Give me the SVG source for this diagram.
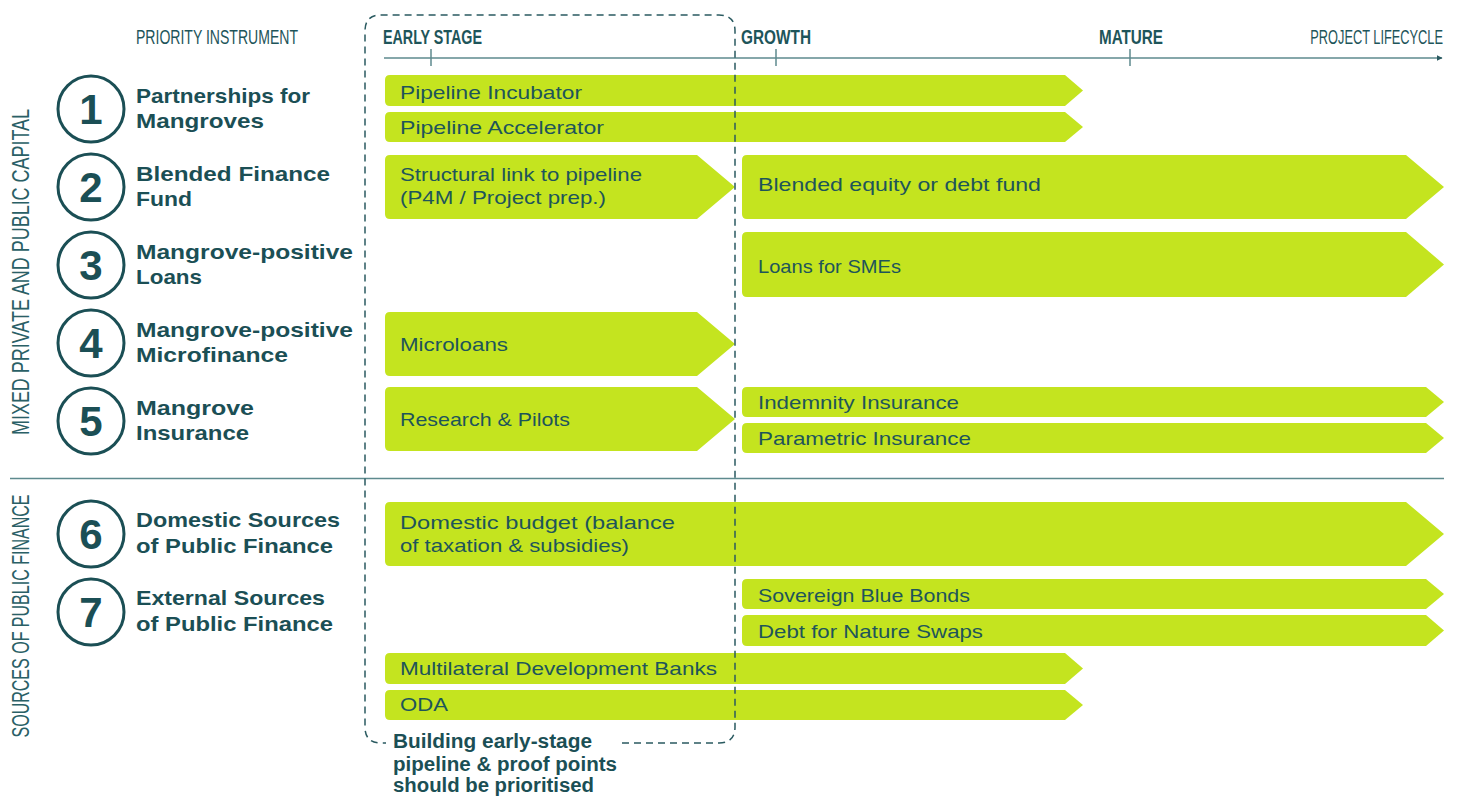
<svg xmlns="http://www.w3.org/2000/svg" width="1462" height="800" viewBox="0 0 1462 800">
<style>
.bar{fill:#c4e41f}
.bt{font-family:"Liberation Sans",Arial,sans-serif;font-size:19px;fill:#1e555a}
.tt{font-family:"Liberation Sans",Arial,sans-serif;font-size:21px;font-weight:bold;fill:#1b4f55}
.num{font-family:"Liberation Sans",Arial,sans-serif;font-size:42px;font-weight:bold;fill:#1b4f55;text-anchor:middle}
.circ{fill:none;stroke:#1b4f55;stroke-width:3}
.hd{font-family:"Liberation Sans",Arial,sans-serif;font-size:21px;fill:#1e555a}
.hdb{font-family:"Liberation Sans",Arial,sans-serif;font-size:21px;font-weight:bold;fill:#1e555a}
.vt{font-family:"Liberation Sans",Arial,sans-serif;font-size:23px;fill:#2a6066}
.note{font-family:"Liberation Sans",Arial,sans-serif;font-size:20px;font-weight:bold;fill:#1b4f55}
.ax{stroke:#5e8a8e;stroke-width:1.5;fill:none}
</style>
<defs>
<marker id="ah" viewBox="0 0 10 10" refX="9" refY="5" markerWidth="6" markerHeight="6" orient="auto" markerUnits="userSpaceOnUse"><path d="M0,0 L10,5 L0,10 Z" fill="#2a5a60"/></marker>
</defs>
<rect width="1462" height="800" fill="#ffffff"/>

<g id="headings">
<text class="hd" x="136" y="44" textLength="162" lengthAdjust="spacingAndGlyphs">PRIORITY INSTRUMENT</text>
<text class="hdb" x="383" y="44" textLength="99" lengthAdjust="spacingAndGlyphs">EARLY STAGE</text>
<text class="hdb" x="741" y="44" textLength="70" lengthAdjust="spacingAndGlyphs">GROWTH</text>
<text class="hdb" x="1099" y="44" textLength="64" lengthAdjust="spacingAndGlyphs">MATURE</text>
<text class="hd" transform="translate(1443,44) scale(0.61,1)" text-anchor="end">PROJECT LIFECYCLE</text>
<text class="vt" transform="translate(29,272) rotate(-90)" text-anchor="middle" textLength="326" lengthAdjust="spacingAndGlyphs">MIXED PRIVATE AND PUBLIC CAPITAL</text>
<text class="vt" transform="translate(29,616) rotate(-90)" text-anchor="middle" textLength="243" lengthAdjust="spacingAndGlyphs">SOURCES OF PUBLIC FINANCE</text>
</g>

<g id="connectors">
<line class="ax" x1="384" y1="58" x2="1442" y2="58" marker-end="url(#ah)"/>
<line class="ax" x1="431" y1="49" x2="431" y2="66"/>
<line class="ax" x1="776" y1="49" x2="776" y2="66"/>
<line class="ax" x1="1130" y1="49" x2="1130" y2="66"/>
<line class="ax" x1="10" y1="478.5" x2="1444" y2="478.5"/>
</g>

<g id="inst1"><circle class="circ" cx="91" cy="109" r="33"/><text class="num" x="91" y="124">1</text>
<text class="tt" x="136" y="103" textLength="174" lengthAdjust="spacingAndGlyphs">Partnerships for</text><text class="tt" x="136" y="128" textLength="128" lengthAdjust="spacingAndGlyphs">Mangroves</text></g>
<g id="inst2"><circle class="circ" cx="91" cy="187" r="33"/><text class="num" x="91" y="202">2</text>
<text class="tt" x="136" y="181" textLength="194" lengthAdjust="spacingAndGlyphs">Blended Finance</text><text class="tt" x="136" y="206" textLength="56" lengthAdjust="spacingAndGlyphs">Fund</text></g>
<g id="inst3"><circle class="circ" cx="91" cy="265" r="33"/><text class="num" x="91" y="280">3</text>
<text class="tt" x="136" y="259" textLength="217" lengthAdjust="spacingAndGlyphs">Mangrove-positive</text><text class="tt" x="136" y="284" textLength="66" lengthAdjust="spacingAndGlyphs">Loans</text></g>
<g id="inst4"><circle class="circ" cx="91" cy="343" r="33"/><text class="num" x="91" y="358">4</text>
<text class="tt" x="136" y="337" textLength="217" lengthAdjust="spacingAndGlyphs">Mangrove-positive</text><text class="tt" x="136" y="362" textLength="152" lengthAdjust="spacingAndGlyphs">Microfinance</text></g>
<g id="inst5"><circle class="circ" cx="91" cy="421" r="33"/><text class="num" x="91" y="436">5</text>
<text class="tt" x="136" y="415" textLength="118" lengthAdjust="spacingAndGlyphs">Mangrove</text><text class="tt" x="136" y="440" textLength="113" lengthAdjust="spacingAndGlyphs">Insurance</text></g>
<g id="inst6"><circle class="circ" cx="91" cy="534" r="33"/><text class="num" x="91" y="549">6</text>
<text class="tt" x="136" y="527" textLength="204" lengthAdjust="spacingAndGlyphs">Domestic Sources</text><text class="tt" x="136" y="553" textLength="197" lengthAdjust="spacingAndGlyphs">of Public Finance</text></g>
<g id="inst7"><circle class="circ" cx="91" cy="612" r="33"/><text class="num" x="91" y="627">7</text>
<text class="tt" x="136" y="605" textLength="189" lengthAdjust="spacingAndGlyphs">External Sources</text><text class="tt" x="136" y="631" textLength="197" lengthAdjust="spacingAndGlyphs">of Public Finance</text></g>

<g id="bar-incubator"><path class="bar" d="M390,75 H1065 L1083,90.5 L1065,106 H390 Q385,106 385,101 V80 Q385,75 390,75 Z"/><text class="bt" x="400" y="99" textLength="182" lengthAdjust="spacingAndGlyphs">Pipeline Incubator</text></g>
<g id="bar-accelerator"><path class="bar" d="M390,112 H1065 L1083,127 L1065,142 H390 Q385,142 385,137 V117 Q385,112 390,112 Z"/><text class="bt" x="400" y="134" textLength="204" lengthAdjust="spacingAndGlyphs">Pipeline Accelerator</text></g>
<g id="bar-structural"><path class="bar" d="M390,155 H697 L735,187 L697,219 H390 Q385,219 385,214 V160 Q385,155 390,155 Z"/><text class="bt" x="400" y="181" textLength="242" lengthAdjust="spacingAndGlyphs">Structural link to pipeline</text><text class="bt" x="400" y="204" textLength="206" lengthAdjust="spacingAndGlyphs">(P4M / Project prep.)</text></g>
<g id="bar-blended"><path class="bar" d="M747,155 H1406 L1444,187 L1406,219 H747 Q742,219 742,214 V160 Q742,155 747,155 Z"/><text class="bt" x="758" y="191" textLength="283" lengthAdjust="spacingAndGlyphs">Blended equity or debt fund</text></g>
<g id="bar-loans"><path class="bar" d="M747,232 H1406 L1444,264.5 L1406,297 H747 Q742,297 742,292 V237 Q742,232 747,232 Z"/><text class="bt" x="758" y="273" textLength="143" lengthAdjust="spacingAndGlyphs">Loans for SMEs</text></g>
<g id="bar-microloans"><path class="bar" d="M390,312 H697 L735,344 L697,376 H390 Q385,376 385,371 V317 Q385,312 390,312 Z"/><text class="bt" x="400" y="351" textLength="108" lengthAdjust="spacingAndGlyphs">Microloans</text></g>
<g id="bar-research"><path class="bar" d="M390,387 H697 L735,419 L697,451 H390 Q385,451 385,446 V392 Q385,387 390,387 Z"/><text class="bt" x="400" y="426" textLength="170" lengthAdjust="spacingAndGlyphs">Research &amp; Pilots</text></g>
<g id="bar-indemnity"><path class="bar" d="M747,387 H1426 L1444,402 L1426,417 H747 Q742,417 742,412 V392 Q742,387 747,387 Z"/><text class="bt" x="758" y="409" textLength="201" lengthAdjust="spacingAndGlyphs">Indemnity Insurance</text></g>
<g id="bar-parametric"><path class="bar" d="M747,423 H1426 L1444,438 L1426,453 H747 Q742,453 742,448 V428 Q742,423 747,423 Z"/><text class="bt" x="758" y="445" textLength="213" lengthAdjust="spacingAndGlyphs">Parametric Insurance</text></g>
<g id="bar-domestic"><path class="bar" d="M390,502 H1406 L1444,534 L1406,566 H390 Q385,566 385,561 V507 Q385,502 390,502 Z"/><text class="bt" x="400" y="529" textLength="275" lengthAdjust="spacingAndGlyphs">Domestic budget (balance</text><text class="bt" x="400" y="552" textLength="229" lengthAdjust="spacingAndGlyphs">of taxation &amp; subsidies)</text></g>
<g id="bar-bluebonds"><path class="bar" d="M747,579 H1426 L1444,594 L1426,609 H747 Q742,609 742,604 V584 Q742,579 747,579 Z"/><text class="bt" x="758" y="602" textLength="212" lengthAdjust="spacingAndGlyphs">Sovereign Blue Bonds</text></g>
<g id="bar-swaps"><path class="bar" d="M747,615 H1426 L1444,630.5 L1426,646 H747 Q742,646 742,641 V620 Q742,615 747,615 Z"/><text class="bt" x="758" y="638" textLength="225" lengthAdjust="spacingAndGlyphs">Debt for Nature Swaps</text></g>
<g id="bar-mdb"><path class="bar" d="M390,653 H1065 L1083,668.5 L1065,684 H390 Q385,684 385,679 V658 Q385,653 390,653 Z"/><text class="bt" x="400" y="675" textLength="317" lengthAdjust="spacingAndGlyphs">Multilateral Development Banks</text></g>
<g id="bar-oda"><path class="bar" d="M390,690 H1065 L1083,705 L1065,720 H390 Q385,720 385,715 V695 Q385,690 390,690 Z"/><text class="bt" x="400" y="711" textLength="48" lengthAdjust="spacingAndGlyphs">ODA</text></g>

<g id="early-stage-box">
<path d="M622,743 H719 Q735,743 735,727 V31 Q735,15 719,15 H381 Q365,15 365,31 V727 Q365,743 381,743 H386" fill="none" stroke="#2a5a60" stroke-width="1.5" stroke-dasharray="7,5"/>
<text class="note" x="393" y="748" textLength="199" lengthAdjust="spacingAndGlyphs">Building early-stage</text>
<text class="note" x="393" y="771" textLength="224" lengthAdjust="spacingAndGlyphs">pipeline &amp; proof points</text>
<text class="note" x="393" y="792" textLength="201" lengthAdjust="spacingAndGlyphs">should be prioritised</text>
</g>
</svg>
